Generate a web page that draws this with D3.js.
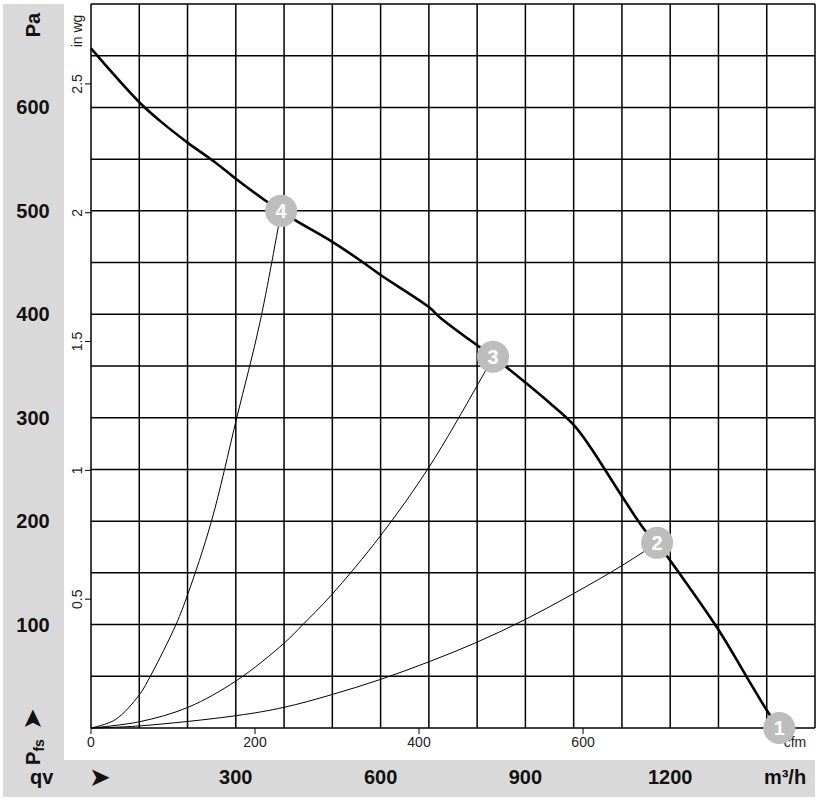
<!DOCTYPE html>
<html>
<head>
<meta charset="utf-8">
<script src="https://cdn.jsdelivr.net/npm/d3@7"></script>
<style>
  body { margin: 0; background: #fff; }
  svg { display: block; font-family: "Liberation Sans", Arial, sans-serif; }
</style>
</head>
<body>
<div id="chart"></div>
<script>
// fan curve, m3/h vs Pa
var mainQ = [0, 100, 143, 200, 257, 300, 361, 394, 423, 500, 558, 600, 700, 723, 800, 833, 900, 951, 1000, 1034, 1096, 1148, 1173, 1200, 1300, 1359, 1403, 1426];
var mainP = [657, 605, 587, 566, 547, 531, 510, 500, 491, 470, 452, 438, 407, 397, 370, 359, 334, 314, 293, 272, 227, 191, 179, 162, 95, 49, 15, 0];

// system curves
var sys4Q = [0, 50, 100, 124, 176, 201, 249, 302, 350, 394];
var sys4P = [0, 8, 32, 51, 100, 130, 199, 300, 392, 500];
var sys3Q = [0, 100, 201, 302, 400, 439, 497, 600, 700, 800, 833];
var sys3P = [0, 6, 20, 46, 82, 100, 128, 186, 252, 331, 359];
var sys2Q = [0, 100, 302, 400, 497, 600, 700, 800, 900, 1000, 1100, 1173];
var sys2P = [0, 2, 12, 20, 32, 47, 64, 83, 105, 130, 157, 179];

// operating points
var markerQ = [1426, 1173, 833, 394];
var markerP = [0, 179, 359, 500];
var markerLabels = ['1', '2', '3', '4'];

var paTicks = [100, 200, 300, 400, 500, 600];
var m3hTicks = [300, 600, 900, 1200];
var cfmTicks = [0, 200, 400, 600];
var inwgTicks = [0.5, 1, 1.5, 2, 2.5];

(function () {
	var W = 820, H = 801;
	var pL = 91, pR = 815, pT = 4, pB = 728;

	var svg = d3.select('#chart').append('svg').attr('width', W).attr('height', H);

	var x = d3.scaleLinear().domain([0, 1500]).range([pL, pR]);
	var y = d3.scaleLinear().domain([0, 700]).range([pB, pT]);
	var xc = d3.scaleLinear().domain([0, 1500 / 1.699]).range([pL, pR]);
	var yw = d3.scaleLinear().domain([0, 700 / 249.09]).range([pB, pT]);

	// grey L-shaped frame
	svg.append('rect').attr('x', 3).attr('y', 4).attr('width', 61).attr('height', 793).attr('fill', '#d9d9d9');
	svg.append('rect').attr('x', 3).attr('y', 760).attr('width', 812).attr('height', 37).attr('fill', '#d9d9d9');

	// grid
	var grid = svg.append('g').attr('stroke', '#000').attr('stroke-width', 1.5);
	grid.selectAll('.vx').data(d3.range(0, 1501, 100)).enter().append('line')
		.attr('x1', function (d) { return x(d); }).attr('x2', function (d) { return x(d); })
		.attr('y1', pT).attr('y2', pB);
	grid.selectAll('.hy').data(d3.range(0, 701, 50)).enter().append('line')
		.attr('y1', function (d) { return y(d); }).attr('y2', function (d) { return y(d); })
		.attr('x1', pL).attr('x2', pR);

	// cfm axis
	var cfm = svg.append('g').attr('font-size', 14).attr('fill', '#222');
	cfm.selectAll('line').data(cfmTicks).enter().append('line')
		.attr('x1', function (d) { return xc(d); }).attr('x2', function (d) { return xc(d); })
		.attr('y1', pB).attr('y2', pB + 6).attr('stroke', '#000');
	cfm.selectAll('text').data(cfmTicks).enter().append('text')
		.attr('x', function (d) { return xc(d); }).attr('y', 747)
		.attr('text-anchor', 'middle').text(function (d) { return d; });
	cfm.append('text').attr('x', 795).attr('y', 747).attr('text-anchor', 'middle').text('cfm');

	// in wg axis
	var wg = svg.append('g').attr('font-size', 14).attr('fill', '#222');
	wg.selectAll('line').data(inwgTicks).enter().append('line')
		.attr('y1', function (d) { return yw(d); }).attr('y2', function (d) { return yw(d); })
		.attr('x1', pL - 6).attr('x2', pL).attr('stroke', '#000');
	wg.selectAll('text').data(inwgTicks).enter().append('text')
		.attr('transform', function (d) { return 'translate(82,' + yw(d) + ') rotate(-90)'; })
		.attr('text-anchor', 'middle').text(function (d) { return d; });
	wg.append('text').attr('transform', 'translate(82,31) rotate(-90)').attr('text-anchor', 'middle').text('in wg');

	// Pa labels
	var pa = svg.append('g').attr('font-size', 20).attr('font-weight', 'bold').attr('fill', '#111');
	pa.selectAll('text').data(paTicks).enter().append('text')
		.attr('x', 33).attr('y', function (d) { return y(d) + 7; })
		.attr('text-anchor', 'middle').text(function (d) { return d; });
	pa.append('text').attr('transform', 'translate(40,25) rotate(-90)').attr('text-anchor', 'middle').text('Pa');

	// P fs label with arrow
	var pfs = pa.append('text').attr('transform', 'translate(40,752) rotate(-90)').attr('text-anchor', 'middle');
	pfs.append('tspan').text('P');
	pfs.append('tspan').attr('font-size', 14).attr('dy', 4).text('fs');
	pa.append('text').attr('transform', 'translate(41,719) rotate(-90)').attr('text-anchor', 'middle')
		.attr('font-family', 'DejaVu Sans').attr('font-size', 26).text('\u27A4');

	// m3/h labels
	var mh = svg.append('g').attr('font-size', 20).attr('font-weight', 'bold').attr('fill', '#111');
	mh.selectAll('text').data(m3hTicks).enter().append('text')
		.attr('x', function (d) { return x(d); }).attr('y', 784)
		.attr('text-anchor', 'middle').text(function (d) { return d; });
	mh.append('text').attr('x', 30).attr('y', 784).text('qv');
	mh.append('text').attr('x', 89).attr('y', 786).attr('font-family', 'DejaVu Sans').attr('font-size', 26).text('\u27A4');
	mh.append('text').attr('x', 785).attr('y', 784).attr('text-anchor', 'middle').text('m\u00B3/h');

	// curves
	var line = d3.line().x(function (d) { return x(d[0]); }).y(function (d) { return y(d[1]); }).curve(d3.curveCatmullRom.alpha(0.5));

	function pairs(qs, ps) {
		return qs.map(function (q, i) { return [q, ps[i]]; });
	}

	[[sys4Q, sys4P], [sys3Q, sys3P], [sys2Q, sys2P]].forEach(function (s) {
		svg.append('path').datum(pairs(s[0], s[1])).attr('d', line)
			.attr('fill', 'none').attr('stroke', '#000').attr('stroke-width', 1);
	});

	svg.append('path').datum(pairs(mainQ, mainP)).attr('d', line)
		.attr('fill', 'none').attr('stroke', '#000').attr('stroke-width', 2.6);

	// markers
	var mk = svg.selectAll('.mk').data(markerQ).enter().append('g')
		.attr('transform', function (d, i) { return 'translate(' + x(d) + ',' + y(markerP[i]) + ')'; });
	mk.append('circle').attr('r', 16).attr('fill', '#bdbdbd');
	mk.append('text').attr('y', 7).attr('text-anchor', 'middle').attr('fill', '#fff')
		.attr('font-size', 20).attr('font-weight', 'bold')
		.text(function (d, i) { return markerLabels[i]; });
})();
</script>
</body>
</html>
